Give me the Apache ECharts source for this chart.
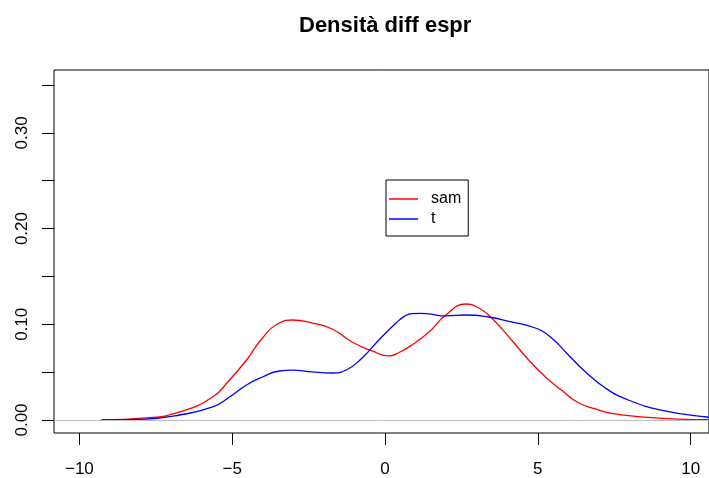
<!DOCTYPE html>
<html>
<head>
<meta charset="utf-8">
<script src="https://cdn.jsdelivr.net/npm/echarts@6/dist/echarts.min.js"></script>
<style>
  html, body { margin: 0; padding: 0; background: #fff; }
  #chart { width: 709px; height: 478px; }
</style>
</head>
<body>
<div id="chart"></div>
<script>
// density curves
const samX = [-9.3, -7.8, -6.72, -5.64, -5.09, -4.53, -4.01, -3.46, -3.03, -2.38, -1.73, -1.08, -0.42, 0.13, 0.46, 0.88, 1.44, 1.99, 2.64, 3.07, 3.49, 4.14, 4.7, 5.25, 5.77, 6.33, 6.88, 7.4, 8.51, 9.59, 10.9];
const samY = [0, 0.0021, 0.0084, 0.024, 0.0418, 0.0627, 0.0857, 0.1013, 0.1045, 0.1013, 0.0951, 0.0815, 0.0721, 0.0669, 0.0705, 0.0784, 0.092, 0.1097, 0.1212, 0.117, 0.1066, 0.0836, 0.0627, 0.0449, 0.0313, 0.018, 0.0115, 0.0068, 0.0029, 0.001, 0.0002];
const tX = [-9.26, -7.8, -6.72, -5.64, -5.09, -4.53, -4.01, -3.46, -3.03, -2.38, -1.73, -1.27, -0.75, -0.2, 0.36, 0.62, 0.88, 1.15, 1.44, 1.99, 2.64, 3.39, 4.14, 4.92, 5.45, 6.0, 6.56, 7.21, 7.96, 9.03, 10.53, 10.9];
const tY = [0, 0.001, 0.0052, 0.0136, 0.024, 0.0366, 0.0449, 0.0512, 0.0522, 0.0502, 0.0491, 0.0522, 0.0648, 0.0836, 0.1013, 0.108, 0.1112, 0.1114, 0.1108, 0.1087, 0.1097, 0.1076, 0.1024, 0.0961, 0.0857, 0.0679, 0.0502, 0.0334, 0.0209, 0.0104, 0.0031, 0.0024];
const xTicks = [-10, -5, 0, 5, 10];
const yTicks = [0, 0.05, 0.1, 0.15, 0.2, 0.25, 0.3, 0.35];
const yLabels = [0, 0.1, 0.2, 0.3];

const FONT = "Liberation Sans, Arial, sans-serif";
const zip = (xs, ys) => xs.map((x, i) => [x, ys[i]]);

// legend key: a thin stripe in the middle of the icon box
const LINE_ICON = "path://M0,0L29,0L29,0.001Z M0,6.35L29,6.35L29,7.65L0,7.65Z M0,14L29,14L29,13.999Z";

const chart = echarts.init(document.getElementById("chart"), null, { renderer: "canvas" });

const option = {
  animation: false,
  backgroundColor: "#fff",
  title: {
    text: "Densità diff espr",
    left: 299,
    top: 15,
    padding: 0,
    textStyle: { fontFamily: FONT, fontSize: 22, fontWeight: "bold", color: "#000" },
  },
  legend: {
    left: 386,
    top: 180,
    orient: "vertical",
    icon: LINE_ICON,
    padding: [11, 7, 9, 3],
    itemGap: 4,
    itemWidth: 29,
    itemHeight: 14,
    itemStyle: { borderWidth: 0 },
    borderColor: "#000",
    borderWidth: 1,
    textStyle: { fontFamily: FONT, fontSize: 16, color: "#000", padding: [0, 0, 0, 8] },
    data: ["sam", "t"],
  },
  grid: {
    left: 54,
    right: -2,
    top: 70,
    bottom: 45,
    show: true,
    borderColor: "#000",
    borderWidth: 1,
  },
  xAxis: {
    type: "value",
    min: -10.83,
    max: 10.6,
    axisLine: { show: false, onZero: false },
    splitLine: { show: false },
    axisTick: {
      show: true,
      length: 12,
      customValues: xTicks,
      lineStyle: { color: "#000" },
    },
    axisLabel: {
      customValues: xTicks,
      margin: 28,
      fontFamily: FONT,
      fontSize: 17,
      color: "#000",
      formatter: (v) => (v < 0 ? "\u2212" + Math.abs(v) : String(v)),
    },
  },
  yAxis: {
    type: "value",
    min: -0.0136,
    max: 0.3657,
    axisLine: { show: false, onZero: false },
    splitLine: { show: false },
    axisTick: {
      show: true,
      length: 12,
      customValues: yTicks,
      lineStyle: { color: "#000" },
    },
    axisLabel: {
      customValues: yLabels,
      rotate: 90,
      margin: 23,
      fontFamily: FONT,
      fontSize: 17,
      color: "#000",
      formatter: (v) => v.toFixed(2),
    },
  },
  series: [
    {
      name: "sam",
      type: "line",
      data: zip(samX, samY),
      smooth: 0.5,
      symbol: "none",
      lineStyle: { color: "#ff0000", width: 1.3 },
      itemStyle: { color: "#ff0000" },
      // gray line at zero
      markLine: {
        silent: true,
        symbol: "none",
        label: { show: false },
        lineStyle: { color: "#bebebe", type: "solid", width: 1 },
        data: [{ yAxis: 0 }],
      },
      z: 3,
    },
    {
      name: "t",
      type: "line",
      data: zip(tX, tY),
      smooth: 0.5,
      symbol: "none",
      lineStyle: { color: "#0000ff", width: 1.3 },
      itemStyle: { color: "#0000ff" },
      z: 4,
    },
  ],
};

chart.setOption(option);
</script>
</body>
</html>
